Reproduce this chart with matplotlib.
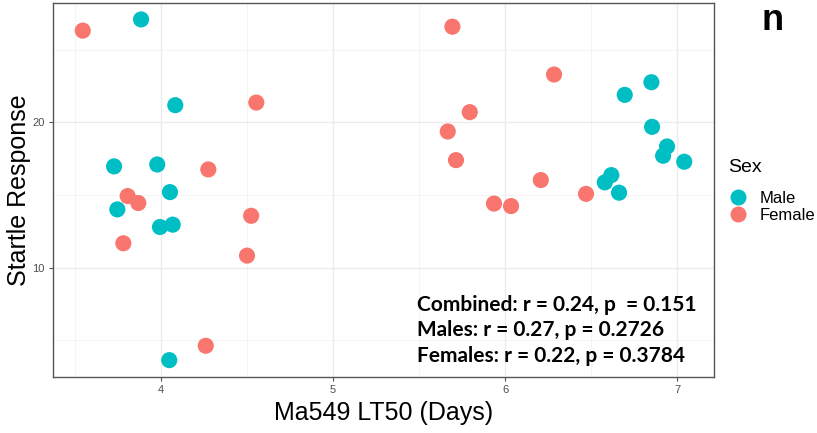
import matplotlib
matplotlib.use("Agg")
import matplotlib.pyplot as plt
from matplotlib.ticker import FixedLocator
from matplotlib.lines import Line2D

# Data
male_x = [3.884, 4.083, 3.727, 3.978, 4.052, 3.746, 3.994, 4.068, 4.048,
          6.696, 6.851, 6.855, 6.942, 6.919, 7.042, 6.618, 6.580, 6.663]
male_y = [27.07, 21.17, 16.96, 17.09, 15.19, 14.00, 12.79, 12.95, 3.63,
          21.88, 22.75, 19.68, 18.33, 17.69, 17.28, 16.36, 15.86, 15.15]
female_x = [3.545, 3.806, 3.868, 3.781, 4.275, 4.554, 4.524, 4.500, 4.260,
            5.694, 6.285, 5.795, 5.667, 5.715, 6.208, 5.936, 6.035, 6.471]
female_y = [26.30, 14.92, 14.44, 11.67, 16.75, 21.35, 13.56, 10.82, 4.62,
            26.57, 23.28, 20.69, 19.36, 17.39, 16.02, 14.40, 14.23, 15.07]

x_ticks = [4, 5, 6, 7]
y_ticks = [10, 20]
stats_lines = ["Combined: r = 0.24, p  = 0.151",
               "Males: r = 0.27, p = 0.2726",
               "Females: r = 0.22, p = 0.3784"]

MALE_C = "#00BFC4"
FEMALE_C = "#F8766D"

plt.rcParams['font.family'] = ['Liberation Sans', 'DejaVu Sans']

fig = plt.figure(figsize=(8.17, 4.33), dpi=100)
ax = fig.add_axes([53/817, 1-377/433, (714-53)/817, (377-3)/433])

ax.scatter(male_x, male_y, s=135, color=MALE_C, edgecolors='none', zorder=3)
ax.scatter(female_x, female_y, s=135, color=FEMALE_C, edgecolors='none', zorder=3)

ax.set_xlim(3.372, 7.215)
ax.set_ylim(2.47, 28.2)

ax.xaxis.set_major_locator(FixedLocator(x_ticks))
ax.yaxis.set_major_locator(FixedLocator(y_ticks))
ax.xaxis.set_minor_locator(FixedLocator([3.5, 4.5, 5.5, 6.5]))
ax.yaxis.set_minor_locator(FixedLocator([5, 15, 25]))

ax.grid(True, which='major', color='#EBEBEB', linewidth=1.0, zorder=0)
ax.grid(True, which='minor', color='#F2F2F2', linewidth=0.6, zorder=0)
ax.set_axisbelow(True)

for sp in ax.spines.values():
    sp.set_color('#555555')
    sp.set_linewidth(1.0)

ax.tick_params(which='major', length=3, width=0.8, color='#555555',
               labelsize=8, labelcolor='#4D4D4D', pad=3)
ax.tick_params(which='minor', length=0)

ax.set_xlabel("Ma549 LT50 (Days)", fontsize=18, labelpad=4)
ax.set_ylabel("Startle Response", fontsize=18, labelpad=1)

# stats annotation
ys = [7.41, 5.70, 3.91]
for t, yy in zip(stats_lines, ys):
    ax.text(5.488, yy, t, fontsize=15, fontweight='bold', family=['Lato', 'DejaVu Sans'],
            ha='left', va='center', color='black', zorder=4)

# legend
fig.text(728/817, 1-167/433, "Sex", fontsize=14, ha='left', va='center')
handles = [Line2D([0], [0], marker='o', linestyle='none', markersize=11.5,
                  markerfacecolor=MALE_C, markeredgecolor='none'),
           Line2D([0], [0], marker='o', linestyle='none', markersize=11.5,
                  markerfacecolor=FEMALE_C, markeredgecolor='none')]
leg = fig.legend(handles, ["Male", "Female"], loc='upper left',
                 bbox_to_anchor=(729.7/817, 1-191/433), frameon=False,
                 fontsize=12, handlelength=1.0, borderpad=0,
                 handletextpad=0.8, labelspacing=0.12, borderaxespad=0)

fig.text(773/817, 1-20/433, "n", fontsize=26, fontweight='bold', ha='center', va='center')

fig.savefig("out.png", dpi=100)
